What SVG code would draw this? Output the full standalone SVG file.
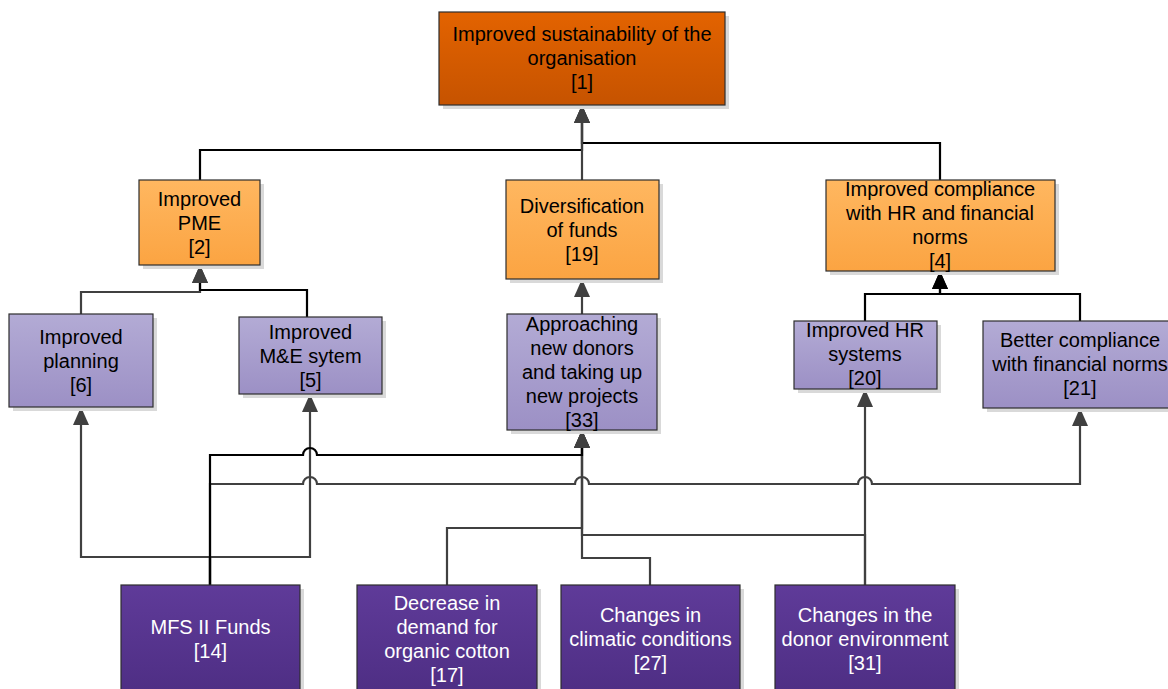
<svg xmlns="http://www.w3.org/2000/svg" width="1168" height="689" viewBox="0 0 1168 689">
  <defs>
    <linearGradient id="gTop" x1="0" y1="0" x2="0" y2="1">
      <stop offset="0" stop-color="#E36300"/>
      <stop offset="1" stop-color="#C65300"/>
    </linearGradient>
    <linearGradient id="gMid" x1="0" y1="0" x2="0" y2="1">
      <stop offset="0" stop-color="#FFB760"/>
      <stop offset="1" stop-color="#FBA442"/>
    </linearGradient>
    <linearGradient id="gLow" x1="0" y1="0" x2="0" y2="1">
      <stop offset="0" stop-color="#B3ABD5"/>
      <stop offset="1" stop-color="#9C90C5"/>
    </linearGradient>
    <linearGradient id="gBase" x1="0" y1="0" x2="0" y2="1">
      <stop offset="0" stop-color="#5F3B99"/>
      <stop offset="1" stop-color="#4E2E84"/>
    </linearGradient>
    <marker id="arrG" viewBox="0 0 18 16" refX="18" refY="8" markerWidth="18" markerHeight="16" markerUnits="userSpaceOnUse" orient="auto">
      <path d="M0,0 L18,8 L0,16 z" fill="#404040"/>
    </marker>
    <marker id="arrK" viewBox="0 0 18 16" refX="18" refY="8" markerWidth="18" markerHeight="16" markerUnits="userSpaceOnUse" orient="auto">
      <path d="M0,0 L18,8 L0,16 z" fill="#000"/>
    </marker>
  </defs>
  <style>
    .shadow { fill: #D9D9D9; }
    .box { stroke: #2E2E2E; stroke-width: 1.2; }
    .top { fill: url(#gTop); }
    .mid { fill: url(#gMid); }
    .low { fill: url(#gLow); }
    .base { fill: url(#gBase); }
    text { font-family: "Liberation Sans", Arial, sans-serif; font-size: 20px; text-anchor: middle; fill: #000; }
    text.w { fill: #FFFFFF; }
    .c { fill: none; stroke-width: 2.2; stroke-linejoin: miter; }
    .k { stroke: #000; marker-end: url(#arrG); }
    .kk { stroke: #000; marker-end: url(#arrK); }
    .g { stroke: #404040; marker-end: url(#arrG); }
  </style>

  <rect width="1168" height="689" fill="#FFFFFF"/>

  <!-- connectors -->
  <g id="connectors">
    <path class="c k" d="M200,180 V150 H582 V105"/>
    <path class="c k" d="M940,180 V143 H582 V105"/>
    <path class="c g" d="M582,180 V105"/>
    <path class="c g" d="M81,314 V292 H200 V265"/>
    <path class="c k" d="M307,317 V290 H200 V265"/>
    <path class="c g" d="M582,314 V279"/>
    <path class="c kk" d="M865,321 V294 H940 V271"/>
    <path class="c kk" d="M1080,321 V294 H940 V271"/>
    <path class="c g" d="M210,585 V557 H81 V407"/>
    <path class="c g" d="M210,585 V557 H310 V394"/>
    <path class="c g" d="M447,585 V528 H582 V430"/>
    <path class="c g" d="M650,585 V558 H582 V430"/>
    <path class="c g" d="M865,585 V535 H582 V430"/>
    <path class="c g" d="M865,585 V389"/>
    <path class="c g" d="M210,585 V484 H303 a7,7 0 0 1 14,0 H575 a7,7 0 0 1 14,0 H858 a7,7 0 0 1 14,0 H1080 V408"/>
    <path class="c k" d="M210,585 V455 H303 a7,7 0 0 1 14,0 H582 V430"/>
  </g>

  <!-- top goal -->
  <g id="n1">
    <rect class="shadow" x="443" y="16" width="286" height="93"/>
    <rect class="box top" x="439" y="12" width="286" height="93"/>
    <text x="582" y="41">Improved sustainability of the</text>
    <text x="582" y="65">organisation</text>
    <text x="582" y="89">[1]</text>
  </g>

  <!-- intermediate outcomes -->
  <g id="n2">
    <rect class="shadow" x="143" y="184" width="121" height="85"/>
    <rect class="box mid" x="139" y="180" width="121" height="85"/>
    <text x="199.5" y="205.5">Improved</text>
    <text x="199.5" y="229.5">PME</text>
    <text x="199.5" y="253.5">[2]</text>
  </g>
  <g id="n19">
    <rect class="shadow" x="510" y="184" width="153" height="99"/>
    <rect class="box mid" x="506" y="180" width="153" height="99"/>
    <text x="582" y="212.5">Diversification</text>
    <text x="582" y="236.5">of funds</text>
    <text x="582" y="260.5">[19]</text>
  </g>
  <g id="n4">
    <rect class="shadow" x="830" y="184" width="229" height="91"/>
    <rect class="box mid" x="826" y="180" width="229" height="91"/>
    <text x="940" y="195.5">Improved compliance</text>
    <text x="940" y="219.5">with HR and financial</text>
    <text x="940" y="243.5">norms</text>
    <text x="940" y="267.5">[4]</text>
  </g>

  <!-- outputs -->
  <g id="n6">
    <rect class="shadow" x="13" y="318" width="144" height="93"/>
    <rect class="box low" x="9" y="314" width="144" height="93"/>
    <text x="81" y="343.5">Improved</text>
    <text x="81" y="367.5">planning</text>
    <text x="81" y="391.5">[6]</text>
  </g>
  <g id="n5">
    <rect class="shadow" x="243" y="321" width="143" height="77"/>
    <rect class="box low" x="239" y="317" width="143" height="77"/>
    <text x="310.5" y="338.5">Improved</text>
    <text x="310.5" y="362.5">M&amp;E sytem</text>
    <text x="310.5" y="386.5">[5]</text>
  </g>
  <g id="n33">
    <rect class="shadow" x="511" y="318" width="150" height="116"/>
    <rect class="box low" x="507" y="314" width="150" height="116"/>
    <text x="582" y="331">Approaching</text>
    <text x="582" y="355">new donors</text>
    <text x="582" y="379">and taking up</text>
    <text x="582" y="403">new projects</text>
    <text x="582" y="427">[33]</text>
  </g>
  <g id="n20">
    <rect class="shadow" x="798" y="325" width="143" height="68"/>
    <rect class="box low" x="794" y="321" width="143" height="68"/>
    <text x="865" y="337">Improved HR</text>
    <text x="865" y="361">systems</text>
    <text x="865" y="385">[20]</text>
  </g>
  <g id="n21">
    <rect class="shadow" x="987" y="325" width="194" height="87"/>
    <rect class="box low" x="983" y="321" width="194" height="87"/>
    <text x="1080" y="346.5">Better compliance</text>
    <text x="1080" y="370.5">with financial norms</text>
    <text x="1080" y="394.5">[21]</text>
  </g>

  <!-- external factors -->
  <g id="n14">
    <rect class="shadow" x="125" y="589" width="179" height="108"/>
    <rect class="box base" x="121" y="585" width="179" height="108"/>
    <text class="w" x="210.5" y="633.5">MFS II Funds</text>
    <text class="w" x="210.5" y="657.5">[14]</text>
  </g>
  <g id="n17">
    <rect class="shadow" x="361" y="589" width="180" height="108"/>
    <rect class="box base" x="357" y="585" width="180" height="108"/>
    <text class="w" x="447" y="609.5">Decrease in</text>
    <text class="w" x="447" y="633.5">demand for</text>
    <text class="w" x="447" y="657.5">organic cotton</text>
    <text class="w" x="447" y="681.5">[17]</text>
  </g>
  <g id="n27">
    <rect class="shadow" x="565" y="589" width="179" height="108"/>
    <rect class="box base" x="561" y="585" width="179" height="108"/>
    <text class="w" x="650.5" y="621.5">Changes in</text>
    <text class="w" x="650.5" y="645.5">climatic conditions</text>
    <text class="w" x="650.5" y="669.5">[27]</text>
  </g>
  <g id="n31">
    <rect class="shadow" x="779" y="589" width="180" height="108"/>
    <rect class="box base" x="775" y="585" width="180" height="108"/>
    <text class="w" x="865" y="621.5">Changes in the</text>
    <text class="w" x="865" y="645.5">donor environment</text>
    <text class="w" x="865" y="669.5">[31]</text>
  </g>
</svg>
